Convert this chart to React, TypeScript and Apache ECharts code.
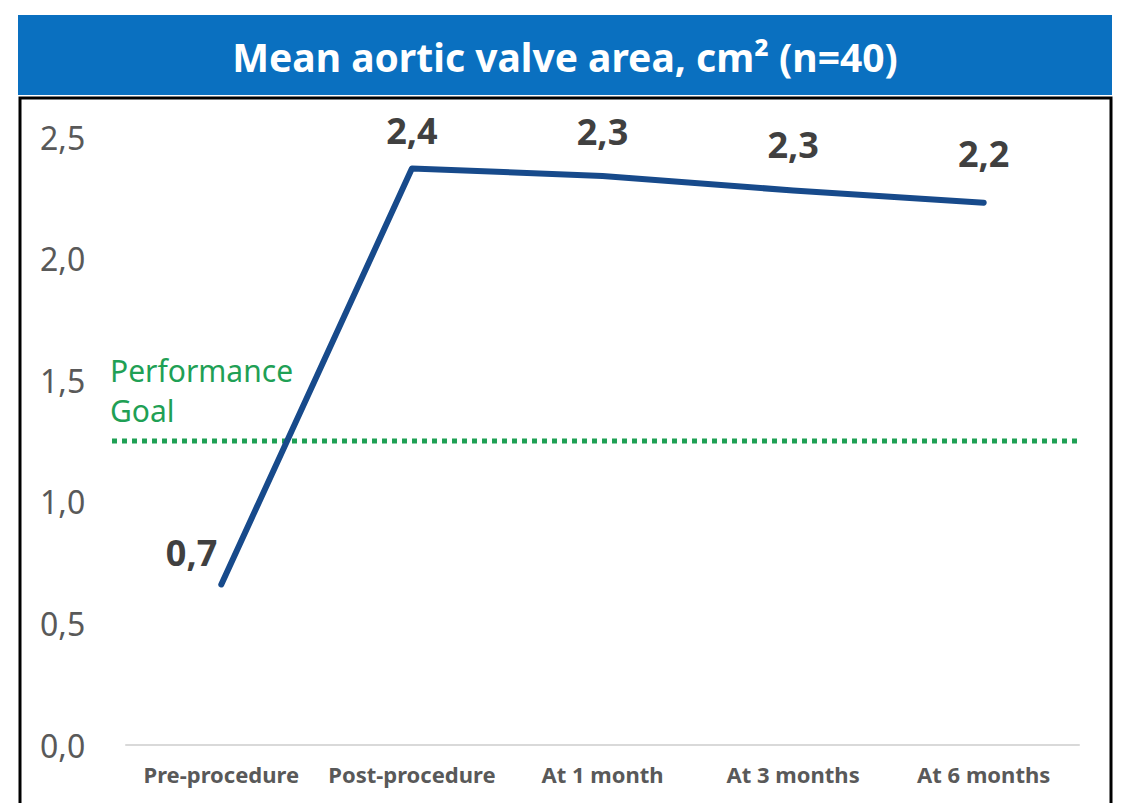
import React, { useEffect, useRef } from "react";
import * as echarts from "echarts";

const categories = ["Pre-procedure", "Post-procedure", "At 1 month", "At 3 months", "At 6 months"];
const meanAVA = [0.66, 2.37, 2.34, 2.28, 2.23];
const performanceGoal = 1.25;
const yTicks = [0, 0.5, 1.0, 1.5, 2.0, 2.5];
const titleText = "Mean aortic valve area, cm² (n=40)";
const goalLabel = "Performance\nGoal";

const FONT = "'Noto Sans', 'Open Sans', sans-serif";

export default function App() {
  const ref = useRef<HTMLDivElement>(null);
  useEffect(() => {
    if (!ref.current) return;
    const chart = echarts.init(ref.current, undefined, { renderer: "svg" });
    const fmt = (v: number) => v.toFixed(1).replace(".", ",");
    const labelOffsets = [[0, -32], [0, -6], [0, -12], [0, -14], [0, -17]];
    const seriesData = meanAVA.map((v, i) => ({
      value: v,
      label: i === 0
        ? { position: "left", distance: 4, offset: labelOffsets[i] }
        : { position: "top", distance: 14, offset: labelOffsets[i] },
    }));
    const yMax = yTicks[yTicks.length - 1];
    chart.setOption({
      animation: false,
      backgroundColor: "#ffffff",
      textStyle: { fontFamily: FONT },
      graphic: [
        {
          type: "rect",
          shape: { x: 18, y: 15, width: 1094, height: 80 },
          style: { fill: "#0a70c0" },
          z: 0,
        },
        {
          type: "text",
          x: 565,
          y: 56,
          style: {
            text: titleText,
            fill: "#ffffff",
            font: `bold 39px ${FONT}`,
            align: "center",
            verticalAlign: "middle",
          },
          z: 1,
        },
        {
          type: "rect",
          shape: { x: 20, y: 98, width: 1091, height: 720 },
          style: { fill: "none", stroke: "#000000", lineWidth: 3 },
          z: 1,
        },
        {
          type: "text",
          x: 110,
          y: 350,
          style: {
            text: goalLabel,
            fill: "#1fa055",
            font: `30px ${FONT}`,
            lineHeight: 40,
            align: "left",
            verticalAlign: "top",
          },
          z: 5,
        },
      ],
      grid: [
        { left: 126, right: 44, top: 137, bottom: 58 },
        { left: 112, right: 46, top: 137, bottom: 58 },
      ],
      xAxis: [
        {
          type: "category",
          gridIndex: 0,
          data: categories,
          boundaryGap: true,
          axisLine: { show: true, lineStyle: { color: "#d9d9d9", width: 2 } },
          axisTick: { show: false },
          axisLabel: {
            interval: 0,
            color: "#595959",
            fontWeight: "bold",
            fontSize: 22,
            margin: 18,
            fontFamily: FONT,
          },
        },
        { type: "value", gridIndex: 1, min: 0, max: 1, show: false },
      ],
      yAxis: [
        {
          type: "value",
          gridIndex: 0,
          min: 0,
          max: yMax,
          interval: 0.5,
          splitLine: { show: false },
          axisLine: { show: false },
          axisTick: { show: false },
          axisLabel: {
            color: "#595959",
            fontSize: 32,
            align: "left",
            margin: 86,
            fontFamily: FONT,
            formatter: (v: number) => fmt(v),
          },
        },
        { type: "value", gridIndex: 1, min: 0, max: yMax, show: false },
      ],
      series: [
        {
          type: "line",
          xAxisIndex: 1,
          yAxisIndex: 1,
          data: [[0, performanceGoal], [1, performanceGoal]],
          symbol: "none",
          lineStyle: { color: "#1fa055", width: 5, type: [5, 5] },
          z: 2,
          silent: true,
        },
        {
          type: "line",
          xAxisIndex: 0,
          yAxisIndex: 0,
          data: seriesData,
          symbol: "circle",
          symbolSize: 0.1,
          itemStyle: { color: "#174a8b" },
          lineStyle: { color: "#174a8b", width: 6, cap: "round", join: "round" },
          label: {
            show: true,
            color: "#404040",
            fontWeight: "bold",
            fontSize: 36,
            fontFamily: FONT,
            formatter: (p: any) => fmt(p.value),
          },
          z: 3,
        },
      ],
    });
    return () => chart.dispose();
  }, []);
  return (
    <div
      ref={ref}
      style={{ position: "fixed", left: 0, top: 0, width: 1123, height: 803, background: "#fff" }}
    />
  );
}
